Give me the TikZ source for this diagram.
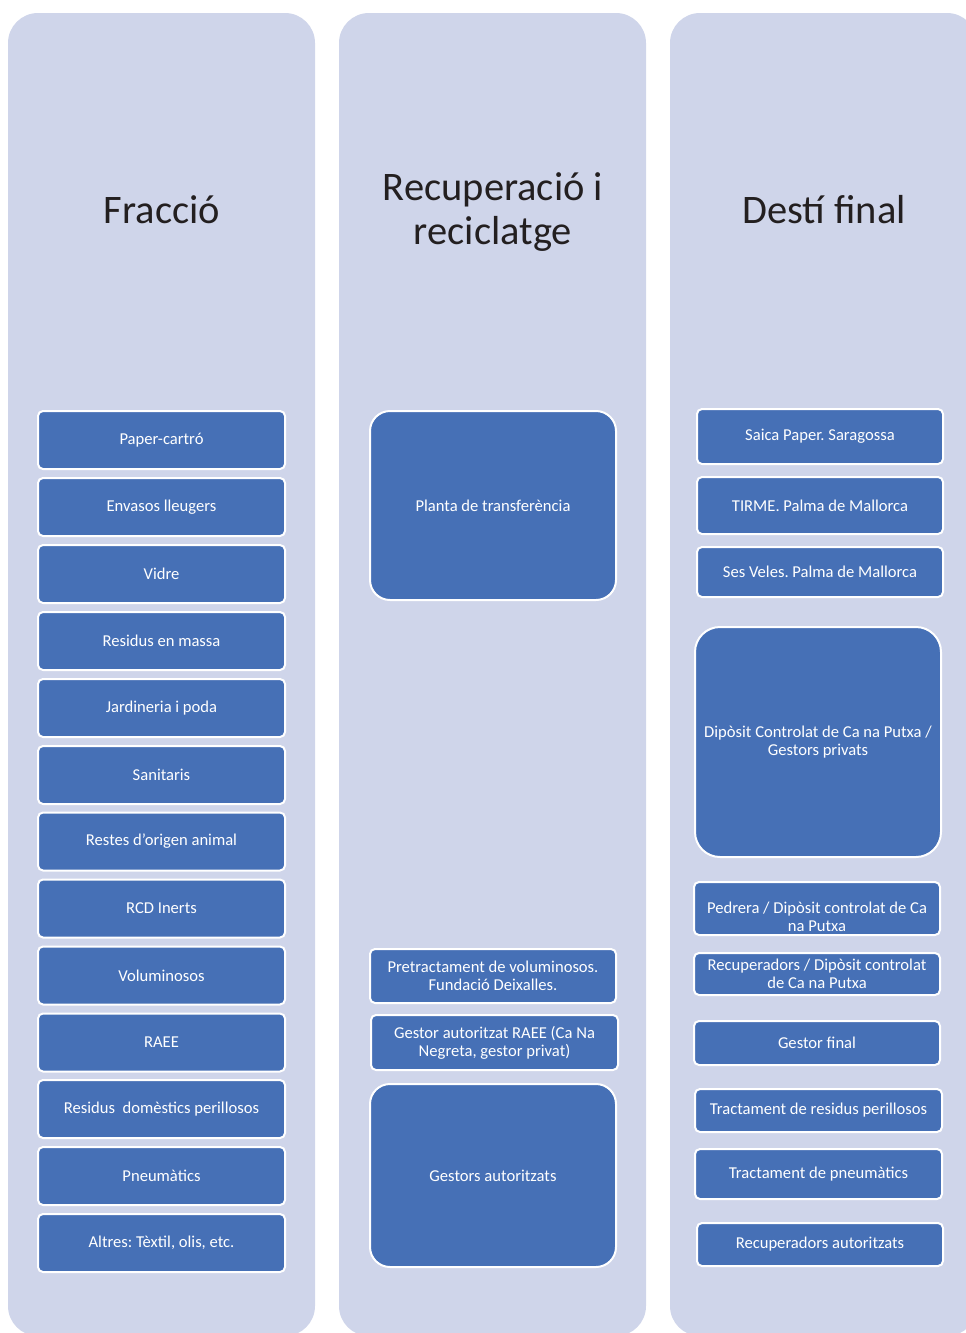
\documentclass[tikz,border=0pt]{standalone}
\usepackage{fontspec}
\setmainfont{Carlito}
\frenchspacing
\definecolor{colbg}{HTML}{CFD5EA}
\definecolor{boxbg}{HTML}{4670B6}
\definecolor{titlec}{HTML}{231F20}
\begin{document}
\begin{tikzpicture}[x=1pt,y=-1pt,
  column/.style={fill=colbg,draw=none,rounded corners=30pt},
  wbox/.style={draw=white,line width=2pt,fill=boxbg,rounded corners=5pt,text=white,
    inner sep=0pt,align=center,font=\fontsize{16.6}{17.8}\selectfont\frenchspacing},
  wtext/.style={text=white,inner sep=0pt,align=center,font=\fontsize{16.6}{17.8}\selectfont\frenchspacing},
  bigbox/.style={wbox,rounded corners=20pt},
  title/.style={text=titlec,align=center,font=\fontsize{40.5}{44}\selectfont}]
\useasboundingbox (0,0) rectangle (966,1333);
\begin{scope}
\clip (0,0) rectangle (966,1333);
\fill[column] (8,13) rectangle (315,1336);
\fill[column] (339,13) rectangle (646,1336);
\fill[column] (670,13) rectangle (977,1336);
\end{scope}
% titles
\node[title] (t1) at (162,210) {Fracció};
\node[title] (t2) at (493,212) {Recuperació i\\reciclatge};
\node[title] (t3) at (824,210) {Destí final};
% left column
\foreach \n/\y/\t in {a1/440/Paper-cartró, a2/507/Envasos lleugers, a3/574/Vidre,
  a4/641/Residus en massa, a5/708/Jardineria i poda, a6/775/Sanitaris,
  a7/841.5/Restes d'origen animal, a8/908.5/RCD Inerts, a9/975.5/Voluminosos,
  a10/1042.5/RAEE, a11/1109/Residus\ \ domèstics perillosos, a12/1176/Pneumàtics,
  a13/1243/{Altres: Tèxtil, olis, etc.}}
  \node[wbox,minimum width=247pt,minimum height=58pt] (\n) at (161.5,\y) {\t};
% middle column
\node[bigbox,minimum width=246pt,minimum height=189pt] (b1) at (493,505.5) {Planta de transferència};
\node[wbox,minimum width=246pt,minimum height=54pt] (b2) at (493,976) {Pretractament de voluminosos.\\Fundació Deixalles.};
\node[wbox,minimum width=247pt,minimum height=55pt] (b3) at (494.5,1042.5) {Gestor autoritzat RAEE (Ca Na\\Negreta, gestor privat)};
\node[bigbox,minimum width=246pt,minimum height=183pt] (b4) at (493,1175.5) {Gestors autoritzats};
% right column
\node[wbox,minimum width=246pt,minimum height=55pt] (c1) at (820,436.5) {Saica Paper. Saragossa};
\node[wbox,minimum width=246pt,minimum height=57pt] (c2) at (820,505.5) {TIRME. Palma de Mallorca};
\node[wbox,minimum width=246pt,minimum height=50pt] (c3) at (820,572) {Ses Veles. Palma de Mallorca};
\node[bigbox,rounded corners=25pt,minimum width=246pt,minimum height=230pt] (c4) at (818,742) {Dipòsit Controlat de Ca na Putxa /\\Gestors privats};
\node[wbox,minimum width=246pt,minimum height=53pt] (c5) at (817,908.5) {};
\node[wtext] (c5t) at ([yshift=-8pt]c5.center) {Pedrera / Dipòsit controlat de Ca\\na Putxa};
\node[wbox,minimum width=246pt,minimum height=42pt] (c6) at (817,974) {Recuperadors / Dipòsit controlat\\de Ca na Putxa};
\node[wbox,minimum width=246pt,minimum height=44pt] (c7) at (817,1043) {Gestor final};
\node[wbox,minimum width=247pt,minimum height=43pt] (c8) at (818.5,1110.5) {Tractament de residus perillosos};
\node[wbox,minimum width=247pt,minimum height=50pt] (c9) at (818.5,1174) {Tractament de pneumàtics};
\node[wbox,minimum width=246pt,minimum height=43pt] (c10) at (820,1244.5) {Recuperadors autoritzats};
\end{tikzpicture}
\end{document}
